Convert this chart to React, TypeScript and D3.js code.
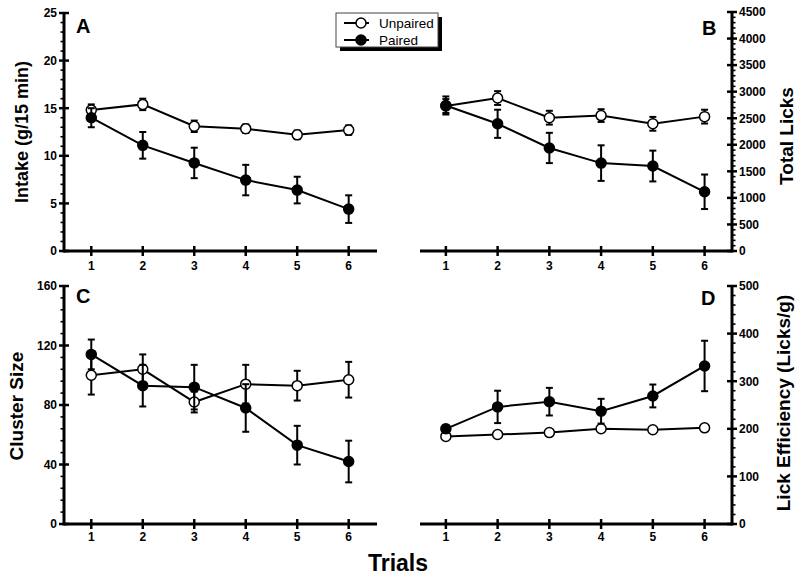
import React from "react";
import * as d3 from "d3";

const trials = [1, 2, 3, 4, 5, 6];

const intakeUnpaired = [14.8, 15.4, 13.1, 12.85, 12.2, 12.7];
const intakeUnpairedErr = [0.6, 0.6, 0.6, 0.45, 0.45, 0.5];
const intakePaired = [14.0, 11.1, 9.25, 7.45, 6.4, 4.4];
const intakePairedErr = [1.0, 1.4, 1.6, 1.6, 1.4, 1.45];

const licksUnpaired = [2730, 2880, 2510, 2550, 2395, 2530];
const licksUnpairedErr = [130, 130, 130, 120, 130, 130];
const licksPaired = [2740, 2395, 1940, 1655, 1600, 1115];
const licksPairedErr = [170, 265, 285, 335, 290, 325];

const clusterUnpaired = [100, 104, 82, 94, 93, 97];
const clusterUnpairedErr = [13, 10, 7, 13, 10, 12];
const clusterPaired = [114, 93, 92, 78, 53, 42];
const clusterPairedErr = [10, 14, 15, 16, 13, 14];

const effUnpaired = [184, 188, 192, 200, 198, 202];
const effUnpairedErr = [5, 4, 4, 5, 4, 4];
const effPaired = [200, 246, 257, 237, 269, 332];
const effPairedErr = [8, 34, 29, 26, 24, 53];

const intakeTicks = [0, 5, 10, 15, 20, 25];
const licksTicks = [0, 500, 1000, 1500, 2000, 2500, 3000, 3500, 4000, 4500];
const clusterTicks = [0, 40, 80, 120, 160];
const effTicks = [0, 100, 200, 300, 400, 500];

const seriesNames = ["Unpaired", "Paired"];

const FONT = "'Liberation Sans', Arial, Helvetica, sans-serif";

type PanelProps = {
  letter: string;
  side: "left" | "right";
  xRange: [number, number];
  xDomain: [number, number];
  yRange: [number, number];
  yMax: number;
  ticks: number[];
  minorStep: number;
  unpaired: number[];
  unpairedErr: number[];
  paired: number[];
  pairedErr: number[];
  letterPos: [number, number];
  xLabelY: number;
};

function Panel(p: PanelProps) {
  const x = d3.scaleLinear().domain(p.xDomain).range(p.xRange);
  const y = d3.scaleLinear().domain([0, p.yMax]).range(p.yRange);
  const axisX = p.side === "left" ? p.xRange[0] : p.xRange[1];
  const y0 = p.yRange[0];
  const line = d3
    .line<number>()
    .x((_, i) => x(trials[i]))
    .y((d) => y(d));
  const minors = d3.range(0, p.yMax + 1e-9, p.minorStep).filter(
    (v) => !p.ticks.some((t) => Math.abs(t - v) < 1e-9)
  );
  const dir = p.side === "left" ? -1 : 1;

  const series = [
    { vals: p.unpaired, errs: p.unpairedErr, fill: "#fff" },
    { vals: p.paired, errs: p.pairedErr, fill: "#000" },
  ];

  return (
    <g>
      {/* axes */}
      <line x1={p.xRange[0]} x2={p.xRange[1]} y1={y0} y2={y0} stroke="#000" strokeWidth={3} />
      <line x1={axisX} x2={axisX} y1={y0 + 1.5} y2={p.yRange[1]} stroke="#000" strokeWidth={3} />
      {/* x ticks */}
      {trials.map((t) => (
        <g key={"xt" + t}>
          <line x1={x(t)} x2={x(t)} y1={y0 - 5} y2={y0 + 5} stroke="#000" strokeWidth={2.5} />
          <text
            x={x(t)}
            y={p.xLabelY}
            textAnchor="middle"
            fontFamily={FONT}
            fontWeight="bold"
            fontSize={12}
          >
            {t}
          </text>
        </g>
      ))}
      {/* y ticks */}
      {p.ticks.map((t) => (
        <g key={"yt" + t}>
          <line x1={axisX - 5} x2={axisX + 5} y1={y(t)} y2={y(t)} stroke="#000" strokeWidth={2.5} />
          <text
            x={axisX + dir * 7}
            y={y(t)}
            dy="0.36em"
            textAnchor={p.side === "left" ? "end" : "start"}
            fontFamily={FONT}
            fontWeight="bold"
            fontSize={12}
          >
            {t}
          </text>
        </g>
      ))}
      {minors.map((t) => (
        <line
          key={"mt" + t}
          x1={axisX + dir * 3.5}
          x2={axisX - dir * 1}
          y1={y(t)}
          y2={y(t)}
          stroke="#000"
          strokeWidth={1.6}
        />
      ))}
      {/* series */}
      {series.map((s, si) => (
        <g key={"s" + si}>
          {s.vals.map((v, i) => (
            <g key={"e" + i}>
              <line x1={x(trials[i])} x2={x(trials[i])} y1={y(v - s.errs[i])} y2={y(v + s.errs[i])} stroke="#000" strokeWidth={2} />
              <line x1={x(trials[i]) - 3.5} x2={x(trials[i]) + 3.5} y1={y(v - s.errs[i])} y2={y(v - s.errs[i])} stroke="#000" strokeWidth={2} />
              <line x1={x(trials[i]) - 3.5} x2={x(trials[i]) + 3.5} y1={y(v + s.errs[i])} y2={y(v + s.errs[i])} stroke="#000" strokeWidth={2} />
            </g>
          ))}
          <path d={line(s.vals) || ""} fill="none" stroke="#000" strokeWidth={2} />
          {s.vals.map((v, i) => (
            <circle key={"c" + i} cx={x(trials[i])} cy={y(v)} r={5} fill={s.fill} stroke="#000" strokeWidth={1.5} />
          ))}
        </g>
      ))}
      <text x={p.letterPos[0]} y={p.letterPos[1]} fontFamily={FONT} fontWeight="bold" fontSize={20}>
        {p.letter}
      </text>
    </g>
  );
}

export default function App() {
  return (
    <svg width={800} height={579} style={{ position: "absolute", left: 0, top: 0, background: "#fff" }}>
      <rect width={800} height={579} fill="#fff" />
      <Panel
        letter="A"
        side="left"
        xRange={[64, 377]}
        xDomain={[0.47, 6.55]}
        yRange={[251, 13]}
        yMax={25}
        ticks={intakeTicks}
        minorStep={1}
        unpaired={intakeUnpaired}
        unpairedErr={intakeUnpairedErr}
        paired={intakePaired}
        pairedErr={intakePairedErr}
        letterPos={[76, 33]}
        xLabelY={270}
      />
      <Panel
        letter="B"
        side="right"
        xRange={[420, 732]}
        xDomain={[0.5, 6.53]}
        yRange={[251, 12]}
        yMax={4500}
        ticks={licksTicks}
        minorStep={100}
        unpaired={licksUnpaired}
        unpairedErr={licksUnpairedErr}
        paired={licksPaired}
        pairedErr={licksPairedErr}
        letterPos={[702, 35]}
        xLabelY={270}
      />
      <Panel
        letter="C"
        side="left"
        xRange={[64, 377]}
        xDomain={[0.47, 6.55]}
        yRange={[524, 286]}
        yMax={160}
        ticks={clusterTicks}
        minorStep={8}
        unpaired={clusterUnpaired}
        unpairedErr={clusterUnpairedErr}
        paired={clusterPaired}
        pairedErr={clusterPairedErr}
        letterPos={[76, 303]}
        xLabelY={541}
      />
      <Panel
        letter="D"
        side="right"
        xRange={[420, 732]}
        xDomain={[0.5, 6.53]}
        yRange={[524, 286]}
        yMax={500}
        ticks={effTicks}
        minorStep={20}
        unpaired={effUnpaired}
        unpairedErr={effUnpairedErr}
        paired={effPaired}
        pairedErr={effPairedErr}
        letterPos={[701, 305]}
        xLabelY={541}
      />
      {/* axis titles */}
      <text transform="translate(28,132) rotate(-90)" textAnchor="middle" fontFamily={FONT} fontWeight="bold" fontSize={18}>
        Intake (g/15 min)
      </text>
      <text transform="translate(23,406) rotate(-90)" textAnchor="middle" fontFamily={FONT} fontWeight="bold" fontSize={19}>
        Cluster Size
      </text>
      <text transform="translate(793,136) rotate(-90)" textAnchor="middle" fontFamily={FONT} fontWeight="bold" fontSize={19}>
        Total Licks
      </text>
      <text transform="translate(790,403) rotate(-90)" textAnchor="middle" fontFamily={FONT} fontWeight="bold" fontSize={19}>
        Lick Efficiency (Licks/g)
      </text>
      <text x={398} y={571} textAnchor="middle" fontFamily={FONT} fontWeight="bold" fontSize={23}>
        Trials
      </text>
      {/* legend */}
      <g>
        <rect x={340} y={17} width={102} height={34} fill="#000" />
        <rect x={336} y={13} width={102} height={34} fill="#fff" stroke="#444" strokeWidth={1} />
        {seriesNames.map((n, i) => (
          <g key={n}>
            <line x1={344} x2={369} y1={23 + i * 17} y2={23 + i * 17} stroke="#000" strokeWidth={2} />
            <circle cx={361} cy={23 + i * 17} r={5} fill={i === 0 ? "#fff" : "#000"} stroke="#000" strokeWidth={1.5} />
            <text x={379} y={23 + i * 17} dy="0.36em" fontFamily={FONT} fontSize={13.5}>
              {n}
            </text>
          </g>
        ))}
      </g>
    </svg>
  );
}
